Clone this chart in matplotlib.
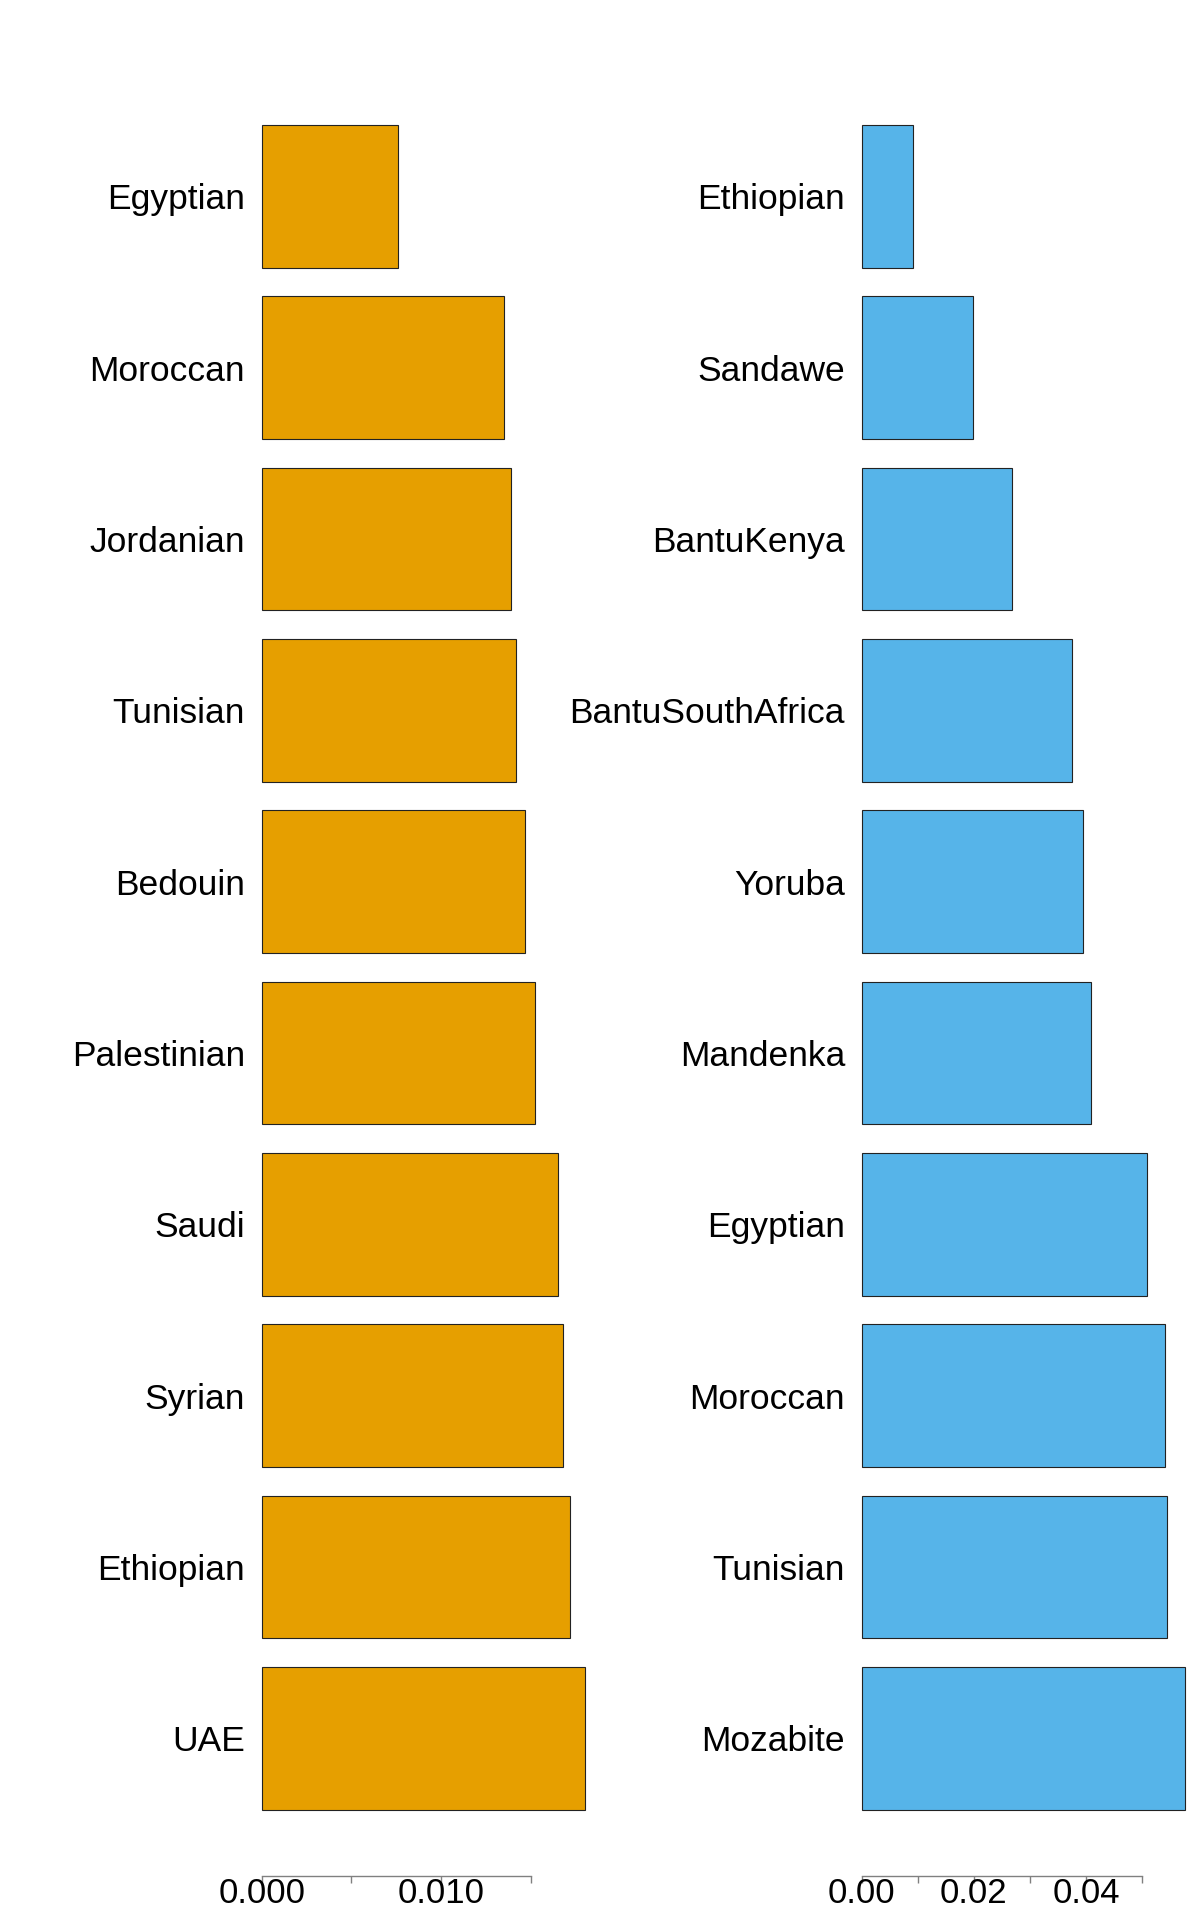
import numpy as np
import matplotlib.pyplot as plt

plt.rcParams['font.family'] = ['Liberation Sans', 'DejaVu Sans']

# left panel (top to bottom)
left_names = ['Egyptian', 'Moroccan', 'Jordanian', 'Tunisian', 'Bedouin',
              'Palestinian', 'Saudi', 'Syrian', 'Ethiopian', 'UAE']
left_vals = [0.00762, 0.01352, 0.01393, 0.01421, 0.01469,
             0.01523, 0.01653, 0.01680, 0.01721, 0.01802]
left_ticks = [0.0, 0.005, 0.010, 0.015]
left_ticklabels = ['0.000', '', '0.010', '']

# right panel (top to bottom)
right_names = ['Ethiopian', 'Sandawe', 'BantuKenya', 'BantuSouthAfrica', 'Yoruba',
               'Mandenka', 'Egyptian', 'Moroccan', 'Tunisian', 'Mozabite']
right_vals = [0.00917, 0.01986, 0.02684, 0.03754, 0.0395,
              0.0408, 0.05085, 0.0541, 0.05434, 0.0576]
right_ticks = [0.0, 0.01, 0.02, 0.03, 0.04, 0.05]
right_ticklabels = ['0.00', '', '0.02', '', '0.04', '']

W, H = 1200, 1920
fig = plt.figure(figsize=(W / 100, H / 100), dpi=100)

ax_top, ax_bot = 125, 1809.6


def panel(left_px, px_per_unit, xmax, names, vals, ticks, ticklabels, color):
    width_px = xmax * px_per_unit
    ax = fig.add_axes([left_px / W, 1 - ax_bot / H, width_px / W, (ax_bot - ax_top) / H])
    n = len(vals)
    pos = np.arange(n)[::-1]
    bars = ax.barh(pos, vals, height=1 / 1.2, color=color, edgecolor='#222222', linewidth=0.8)
    for b in bars:
        b.set_clip_on(False)
    ax.set_xlim(0, xmax)
    ax.set_ylim(-0.5 / 1.2, n - 1 + 0.5 / 1.2)
    ax.set_yticks(pos)
    ax.set_yticklabels(names, fontsize=25.5)
    ax.tick_params(axis='y', length=0, pad=12)
    for s in ['top', 'right', 'left']:
        ax.spines[s].set_visible(False)
    ax.spines['bottom'].set_position(('outward', 47.8))
    ax.spines['bottom'].set_bounds(ticks[0], ticks[-1])
    ax.spines['bottom'].set_color('#808080')
    ax.spines['bottom'].set_linewidth(1.0)
    ax.set_xticks(ticks)
    ax.set_xticklabels(ticklabels, fontsize=25)
    ax.tick_params(axis='x', direction='out', length=5, width=1.0, color='#808080', pad=-4.5)
    ax.patch.set_visible(False)
    return ax


panel(261.7, 17920, 0.0187, left_names, left_vals, left_ticks, left_ticklabels, '#E69F00')
panel(861.7, 5610, 0.060, right_names, right_vals, right_ticks, right_ticklabels, '#56B4E9')

fig.savefig('out.png', dpi=100)
